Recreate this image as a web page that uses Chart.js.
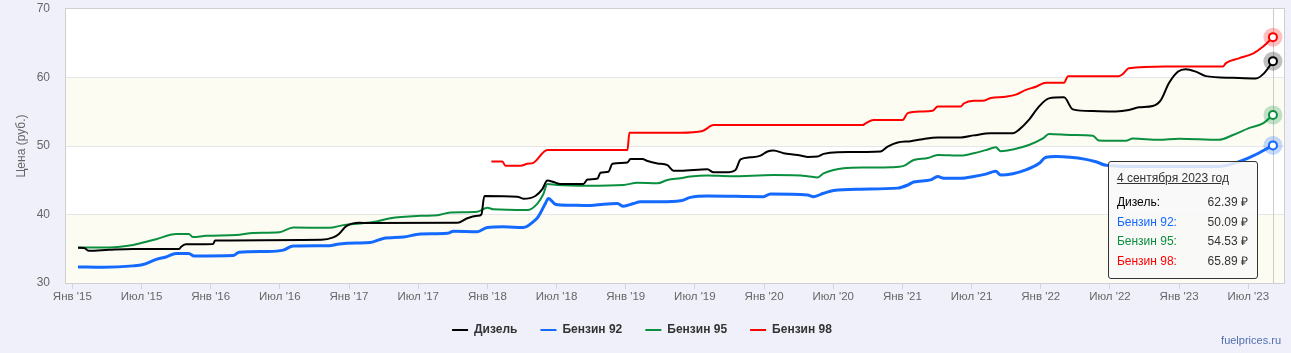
<!DOCTYPE html>
<html>
<head>
<meta charset="utf-8">
<script src="https://cdn.jsdelivr.net/npm/chart.js@4.4.0/dist/chart.umd.min.js"></script>
<style>
  html, body { margin: 0; padding: 0; background: #f0f0fa; }
  #wrap { position: relative; width: 1291px; height: 353px; }
  #tip {
    position: absolute; width: 150px; box-sizing: border-box;
    border: 1px solid #333; border-radius: 3px;
    background: rgba(248, 248, 248, 0.85);
    font: 12px "Liberation Sans", Arial, sans-serif; color: #333;
    padding: 8px 9px 7px 8px; display: none;
  }
  #tip .ttl { line-height: 16px; text-decoration: underline; margin-bottom: 7px; }
  #tip .row { display: flex; justify-content: space-between; line-height: 19.5px; }
  #mark {
    position: absolute; right: 10px; top: 334px;
    font: 11px "Liberation Sans", Arial, sans-serif; color: #4f6fae; line-height: 13px;
  }
</style>
</head>
<body>
<div id="wrap">
  <canvas id="c" width="1291" height="353"></canvas>
  <div id="tip"></div>
  <div id="mark">fuelprices.ru</div>
</div>
<script>
// x = months since January 2015
const tickMonths = [0, 6, 12, 18, 24, 30, 36, 42, 48, 54, 60, 66, 72, 78, 84, 90, 96, 102];
const tickLabels = ["Янв '15", "Июл '15", "Янв '16", "Июл '16", "Янв '17", "Июл '17", "Янв '18", "Июл '18",
  "Янв '19", "Июл '19", "Янв '20", "Июл '20", "Янв '21", "Июл '21", "Янв '22", "Июл '22", "Янв '23", "Июл '23"];

const seriesNames = ['Дизель', 'Бензин 92', 'Бензин 95', 'Бензин 98'];
const tooltipTitle = '4 сентября 2023 год';

const dieselMonths = [0.49, 1.02, 1.45, 3.19, 5.27, 9.26, 9.44, 9.84, 12.21, 12.39, 21.6, 22.63, 23.15, 23.76, 24.89,
  25.84, 33.4, 34.26, 35.13, 35.48, 35.74, 38.6, 39.12, 40.16, 40.77, 41.2, 41.73, 42.33, 44.33, 44.68, 45.55, 45.81,
  46.5, 46.85, 48.15, 48.41, 49.45, 49.89, 50.76, 51.62, 52.14, 52.75, 55.09, 55.62, 56.66, 57.52, 57.96, 58.83,
  59.69, 60.3, 60.82, 61.69, 62.91, 63.77, 64.64, 65.16, 66.38, 70.11, 70.72, 71.59, 72.72, 73.59, 75.06, 77.06,
  78.19, 79.66, 81.58, 82.1, 82.97, 83.84, 84.71, 86.02, 86.78, 88.52, 90.51, 91.64, 92.51, 93.72, 94.42, 95.11,
  95.89, 96.58, 97.45, 98.32, 100.67, 102.66, 103.36, 104.14];
const dieselPrices = [35.15, 35.1, 34.7, 34.85, 34.97, 34.97, 35.3, 35.65, 35.7, 36.2, 36.3, 36.65, 37.2, 38.3, 38.8,
  38.75, 38.8, 39.45, 39.8, 40.0, 42.7, 42.6, 42.3, 42.7, 43.7, 44.95, 44.75, 44.45, 44.45, 45.1, 45.25, 46.1,
  46.25, 47.4, 47.6, 48.1, 48.1, 47.8, 47.45, 47.2, 46.4, 46.4, 46.6, 46.15, 46.15, 46.5, 48.05, 48.35,
  48.6, 49.2, 49.35, 48.95, 48.7, 48.4, 48.45, 48.85, 49.1, 49.2, 49.9, 50.5, 50.7, 50.95, 51.25, 51.25,
  51.55, 51.85, 51.85, 52.35, 53.8, 55.75, 56.95, 57.1, 55.35, 55.1, 55.05, 55.25, 55.65, 55.85, 56.7, 59.15,
  60.85, 61.2, 60.85, 60.2, 59.95, 59.85, 60.6, 62.39];

const ai92Months = [0.49, 2.67, 5.27, 6.14, 7.27, 8.13, 9.0, 10.1, 10.56, 13.95, 14.47, 16.81, 18.29, 19.16, 22.28,
  23.15, 24.63, 25.84, 26.97, 28.71, 30.19, 32.53, 33.05, 35.13, 36.0, 37.39, 39.12, 39.99, 40.42, 41.03, 41.29,
  41.9, 43.2, 44.94, 46.07, 47.28, 47.8, 48.67, 49.28, 51.02, 52.75, 53.62, 55.09, 59.95, 60.56, 63.77, 64.29,
  65.16, 66.03, 68.38, 71.59, 72.46, 72.98, 74.45, 75.06, 75.58, 77.06, 78.19, 79.23, 80.1, 80.53, 81.58, 82.71,
  83.84, 84.45, 85.32, 87.92, 88.78, 89.65, 92.25, 99.45, 101.19, 102.4, 104.14];
const ai92Prices = [32.35, 32.3, 32.5, 32.7, 33.45, 33.8, 34.3, 34.3, 33.94, 34.0, 34.5, 34.6, 34.8, 35.4, 35.45,
  35.7, 35.85, 35.9, 36.5, 36.7, 37.15, 37.25, 37.55, 37.5, 38.1, 38.2, 38.1, 38.95, 39.7, 41.6, 42.35,
  41.5, 41.35, 41.3, 41.5, 41.6, 41.2, 41.6, 41.85, 41.85, 42.0, 42.5, 42.7, 42.6, 43.0, 42.85, 42.6,
  43.1, 43.5, 43.7, 43.85, 44.3, 44.75, 45.05, 45.55, 45.3, 45.3, 45.55, 45.9, 46.3, 45.75, 45.95, 46.5,
  47.45, 48.35, 48.45, 48.05, 47.7, 47.2, 47.0, 47.0, 47.7, 48.55, 50.09];

const ai95Months = [0.49, 3.19, 5.27, 6.14, 7.27, 9.0, 10.1, 10.48, 11.61, 14.21, 15.69, 17.94, 19.16, 22.28, 23.5,
  26.1, 27.58, 30.19, 31.67, 32.79, 35.13, 36.0, 36.52, 39.47, 40.34, 40.86, 41.2, 42.07, 44.68, 47.8, 49.02,
  50.76, 51.62, 52.75, 53.62, 55.09, 57.09, 60.82, 63.77, 64.64, 65.16, 66.03, 66.9, 68.98, 70.98, 72.11, 72.98,
  74.2, 75.06, 77.06, 78.19, 79.23, 80.1, 80.53, 81.58, 82.97, 84.19, 84.71, 86.78, 88.52, 89.04, 91.38, 91.99,
  94.25, 95.98, 99.45, 100.67, 102.06, 103.27, 104.14];
const ai95Prices = [35.2, 35.2, 35.55, 35.9, 36.4, 37.15, 37.15, 36.7, 36.9, 37.0, 37.3, 37.4, 38.1, 38.05, 38.45,
  38.9, 39.45, 39.8, 39.9, 40.3, 40.4, 41.0, 40.75, 40.65, 41.6, 43.0, 44.45, 44.3, 44.2, 44.3, 44.65,
  44.55, 45.05, 45.3, 45.55, 45.7, 45.6, 45.75, 45.6, 45.4, 46.0, 46.5, 46.75, 46.85, 46.9, 47.1, 47.95,
  48.25, 48.7, 48.6, 48.95, 49.4, 49.8, 49.25, 49.5, 50.15, 51.1, 51.75, 51.6, 51.5, 50.8, 50.75, 51.1,
  50.9, 51.05, 50.9, 51.6, 52.6, 53.3, 54.53];

const ai98Months = [36.35, 37.3, 37.57, 38.86, 39.47, 39.99, 41.2, 48.15, 48.32, 52.75, 54.66, 55.62, 68.55, 68.81,
  69.5, 72.02, 72.46, 73.59, 74.63, 75.06, 77.06, 77.32, 78.19, 78.97, 79.66, 80.97, 81.84, 82.71, 83.58, 84.45,
  86.02, 86.37, 90.77, 91.12, 91.64, 94.85, 99.8, 100.06, 101.19, 102.4, 103.27, 104.14];
const ai98Prices = [47.75, 47.75, 47.1, 47.1, 47.4, 47.55, 49.4, 49.4, 51.95, 51.95, 52.2, 53.05, 53.05, 53.3,
  53.8, 53.8, 54.8, 55.05, 55.15, 55.75, 55.75, 56.2, 56.6, 56.6, 57.0, 57.2, 57.5, 58.2, 58.65, 59.25,
  59.25, 60.2, 60.2, 60.5, 61.35, 61.6, 61.6, 62.1, 62.8, 63.5, 64.5, 65.89];

function pts(xs, ys) { return xs.map((m, i) => ({x: m, y: ys[i]})); }
function lastOnly(v) { return ctx => ctx.dataIndex === ctx.dataset.data.length - 1 ? v : 0; }

function mkSet(label, xs, ys, color, width) {
  return {
    label, data: pts(xs, ys), borderColor: color, backgroundColor: color, borderWidth: width,
    cubicInterpolationMode: 'monotone', pointRadius: lastOnly(4), pointHoverRadius: lastOnly(4),
    pointBackgroundColor: '#fff', pointBorderColor: color, pointBorderWidth: 2, pointHoverBorderWidth: 2
  };
}

const FONT = '"Liberation Sans", Arial, sans-serif';

const decor = {
  id: 'decor',
  beforeDraw(chart) {
    const {ctx, chartArea: a, scales: {y}} = chart;
    ctx.save();
    ctx.fillStyle = '#ffffff';
    ctx.fillRect(a.left, a.top, a.width, a.height);
    ctx.fillStyle = '#fcfcf2';
    [[30, 40], [50, 60]].forEach(([lo, hi]) => {
      const t = y.getPixelForValue(hi), b = y.getPixelForValue(lo);
      ctx.fillRect(a.left, t, a.width, b - t);
    });
    ctx.restore();
  },
  beforeDatasetsDraw(chart) {
    const {ctx, chartArea: a} = chart;
    ctx.save();
    const p0 = chart.getDatasetMeta(0).data.at(-1);
    ctx.strokeStyle = '#cccccc';
    ctx.lineWidth = 1;
    ctx.beginPath();
    ctx.moveTo(Math.round(p0.x) + 0.5, a.top);
    ctx.lineTo(Math.round(p0.x) + 0.5, a.bottom);
    ctx.stroke();
    chart.data.datasets.forEach((ds, i) => {
      const p = chart.getDatasetMeta(i).data.at(-1);
      ctx.globalAlpha = 0.25;
      ctx.fillStyle = ds.borderColor;
      ctx.beginPath();
      ctx.arc(p.x, p.y, 9.5, 0, Math.PI * 2);
      ctx.fill();
    });
    ctx.restore();
  },
  afterDatasetsDraw(chart) {
    const {ctx, chartArea: a} = chart;
    ctx.save();
    ctx.strokeStyle = '#cfcfcf';
    ctx.lineWidth = 1;
    ctx.strokeRect(Math.round(a.left) - 0.5, Math.round(a.top) - 0.5, Math.round(a.width) + 1, Math.round(a.height) + 1);
    ctx.restore();
  },
  afterRender(chart) {
    const tip = document.getElementById('tip');
    const p = chart.getDatasetMeta(1).data.at(-1);
    const vals = [dieselPrices, ai92Prices, ai95Prices, ai98Prices].map(a => a[a.length - 1]);
    let html = '<div class="ttl">' + tooltipTitle + '</div>';
    chart.data.datasets.forEach((ds, i) => {
      html += '<div class="row"><span style="color:' + ds.borderColor + '">' + seriesNames[i] +
        ':</span><span>' + vals[i].toFixed(2) + ' ₽</span></div>';
    });
    tip.innerHTML = html;
    tip.style.left = (p.x - 165) + 'px';
    tip.style.top = (p.y + 16) + 'px';
    tip.style.display = 'block';
  }
};

new Chart(document.getElementById('c'), {
  type: 'line',
  data: {
    datasets: [
      mkSet(seriesNames[0], dieselMonths, dieselPrices, '#000000', 2),
      mkSet(seriesNames[1], ai92Months, ai92Prices, '#1469ff', 3),
      mkSet(seriesNames[2], ai95Months, ai95Prices, '#0a8f3f', 2),
      mkSet(seriesNames[3], ai98Months, ai98Prices, '#ff0000', 2)
    ]
  },
  options: {
    responsive: false,
    animation: false,
    events: [],
    layout: {padding: {left: 0, right: 7, top: 9, bottom: 7}},
    scales: {
      x: {
        type: 'linear', min: -0.55, max: 105.1,
        afterBuildTicks: s => { s.ticks = tickMonths.map(v => ({value: v})); },
        afterFit: s => { s.height = 18; },
        grid: {drawOnChartArea: false, drawTicks: true, tickLength: 6, color: '#ccd6eb'},
        border: {display: false},
        ticks: {
          autoSkip: false, maxRotation: 0, padding: 1, color: '#666666',
          font: {family: FONT, size: 11.5},
          callback: v => tickLabels[tickMonths.indexOf(v)]
        }
      },
      y: {
        min: 30, max: 70,
        afterFit: s => { s.width = 66; },
        grid: {
          color: ctx => (ctx.tick.value === 30 || ctx.tick.value === 70) ? 'rgba(0,0,0,0)' : '#e6e6e6',
          drawTicks: true, tickLength: 16, tickColor: 'rgba(0,0,0,0)'
        },
        border: {display: false},
        ticks: {stepSize: 10, padding: 0, color: '#666666', font: {family: FONT, size: 12}},
        title: {display: true, text: 'Цена (руб.)', color: '#666666', font: {family: FONT, size: 12}, padding: {top: 14, bottom: 0}}
      }
    },
    plugins: {
      tooltip: {enabled: false},
      legend: {
        position: 'bottom',
        labels: {
          usePointStyle: true, pointStyle: 'line', pointStyleWidth: 16, padding: 23,
          color: '#333333', font: {family: FONT, size: 12, weight: 'bold'},
          generateLabels: chart => Chart.defaults.plugins.legend.labels.generateLabels(chart)
            .map(l => Object.assign(l, {lineWidth: 2, pointStyle: 'line'}))
        }
      }
    }
  },
  plugins: [decor]
});
</script>
</body>
</html>
